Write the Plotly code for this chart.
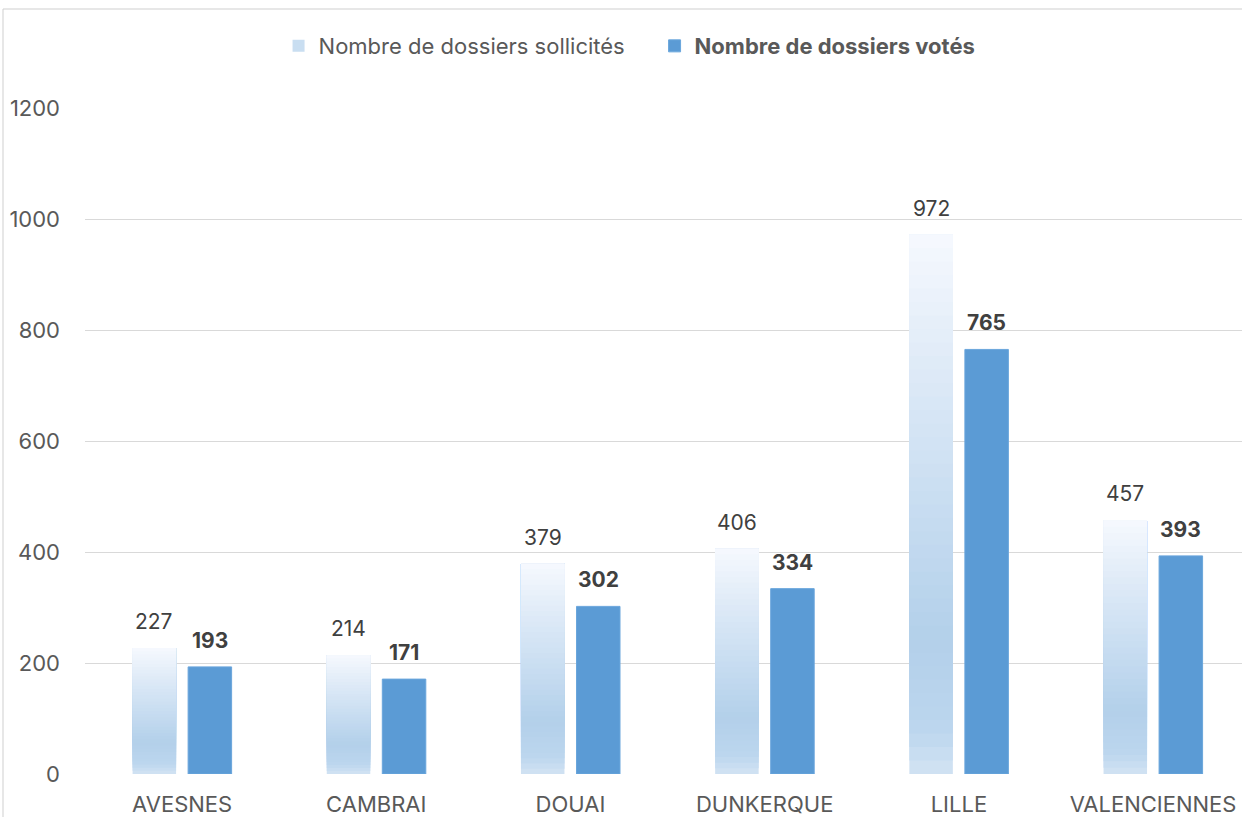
import numpy as np
import plotly.graph_objects as go

categories = ["AVESNES", "CAMBRAI", "DOUAI", "DUNKERQUE", "LILLE", "VALENCIENNES"]
sollicites = [227, 214, 379, 406, 972, 457]
votes = [193, 171, 302, 334, 765, 393]
y_ticks = [0, 200, 400, 600, 800, 1000, 1200]

name_sol = "Nombre de dossiers sollicités"
name_vot = "<b>Nombre de dossiers votés</b>"

FONT = "Inter"
AXIS_COLOR = "#595959"
LABEL_COLOR = "#404040"
GRID = "#d9d9d9"
DARK = "#5b9bd5"

# vertical gradient for the light bars (fraction of bar height -> colour)
grad_stops = [
    (0.00, (0xd2, 0xe3, 0xf3)),
    (0.08, (0xbc, 0xd6, 0xee)),
    (0.25, (0xb3, 0xd0, 0xea)),
    (0.50, (0xc8, 0xdd, 0xf1)),
    (0.75, (0xde, 0xea, 0xf7)),
    (1.00, (0xf6, 0xf9, 0xfe)),
]


def grad(t):
    for (t0, c0), (t1, c1) in zip(grad_stops[:-1], grad_stops[1:]):
        if t0 <= t <= t1:
            a = (t - t0) / (t1 - t0)
            c = [round(c0[i] + (c1[i] - c0[i]) * a) for i in range(3)]
            return "rgb(%d,%d,%d)" % tuple(c)
    return "rgb(246,249,254)"


BAR_W = 0.224
OFF_L = -0.255
OFF_D = 0.031

fig = go.Figure()
sol = np.array(sollicites, dtype=float)
N = 40
legend_k = N // 2
# each layer spans from its start fraction to the top of the bar; later layers
# cover earlier ones, which gives a seamless vertical gradient
for k in range(N):
    f0 = k / N
    fig.add_trace(go.Bar(
        x=categories, y=sol * (1 - f0), base=sol * f0,
        width=BAR_W, offset=OFF_L,
        marker=dict(color=grad((k + 0.5) / N), line=dict(width=0)),
        name=name_sol, showlegend=(k == legend_k), legendrank=1,
        customdata=sollicites, hovertemplate="%{x}: %{customdata}<extra></extra>",
    ))

fig.add_trace(go.Bar(
    x=categories, y=votes, width=BAR_W, offset=OFF_D,
    marker=dict(color=DARK, line=dict(width=1, color="#6aa6dc")),
    name=name_vot, legendrank=2,
    hovertemplate="%{x}: %{y}<extra></extra>",
))

# data labels
px_per_cat = 1157 / (5.458 + 0.5)
for c, v in zip(categories, sollicites):
    fig.add_annotation(x=c, y=v, text=str(v), showarrow=False, yanchor="bottom",
                       xshift=(OFF_L + BAR_W / 2) * px_per_cat, yshift=12,
                       font=dict(family=FONT, size=21, color=LABEL_COLOR))
for c, v in zip(categories, votes):
    fig.add_annotation(x=c, y=v, text="<b>%d</b>" % v, showarrow=False, yanchor="bottom",
                       xshift=(OFF_D + BAR_W / 2) * px_per_cat, yshift=12,
                       font=dict(family=FONT, size=21, color=LABEL_COLOR))

# chart-area frame (cropped on right and bottom)
fx = (3 - 85) / 1157
fy = (774 - 9) / 666
fig.add_shape(type="line", xref="paper", yref="paper", x0=fx, x1=fx, y0=-0.2, y1=fy,
              line=dict(color="#cfcfcf", width=1))
fig.add_shape(type="line", xref="paper", yref="paper", x0=fx, x1=1.2, y0=fy, y1=fy,
              line=dict(color="#cfcfcf", width=1))

fig.update_layout(
    width=1242, height=817,
    margin=dict(l=85, r=0, t=108, b=43, pad=0),
    paper_bgcolor="white", plot_bgcolor="white",
    barmode="overlay",
    font=dict(family=FONT, size=22, color=AXIS_COLOR),
    legend=dict(orientation="h", x=0.1673, xanchor="left", y=1.093, yanchor="middle",
                font=dict(family=FONT, size=22, color=AXIS_COLOR),
                traceorder="normal", entrywidth=331, bgcolor="rgba(0,0,0,0)"),
    xaxis=dict(type="category", range=[-0.5, 5.458], showgrid=False, showline=False,
               zeroline=False, ticks="", tickfont=dict(family=FONT, size=22, color=AXIS_COLOR),
               ticklabelstandoff=15, fixedrange=True),
    yaxis=dict(range=[0, 1200], tickvals=y_ticks, showgrid=True, gridcolor=GRID, gridwidth=1,
               zeroline=False, showline=False, ticks="",
               tickfont=dict(family=FONT, size=22, color=AXIS_COLOR),
               ticklabelstandoff=24, fixedrange=True),
)

fig.write_html("out.html", config={"displayModeBar": False},
               post_script="document.body.style.margin='0';document.body.style.overflow='hidden';")
